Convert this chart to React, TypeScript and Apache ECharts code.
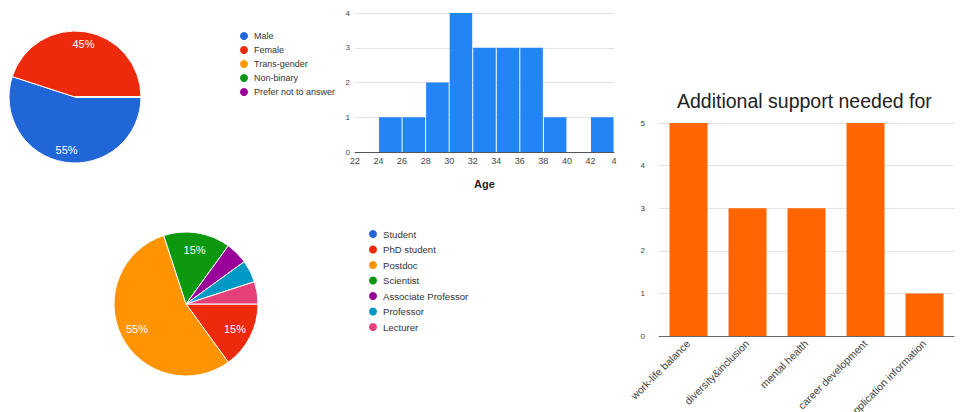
import React, { useEffect, useRef } from "react";
import * as echarts from "echarts";

const genderNames = ["Male", "Female", "Trans-gender", "Non-binary", "Prefer not to answer"];
const genderValues = [11, 9, 0, 0, 0];
const genderColors = ["#2166d6", "#ee2a0c", "#ff9900", "#109618", "#990099"];

const roleNames = ["Student", "PhD student", "Postdoc", "Scientist", "Associate Professor", "Professor", "Lecturer"];
const roleValues = [0, 3, 11, 3, 1, 1, 1];
const roleColors = ["#2166d6", "#ee2a0c", "#ff9300", "#0d990f", "#990099", "#0099c6", "#e5407a"];

const ageBinStart = [24, 26, 28, 30, 32, 34, 36, 38, 40, 42];
const ageBinEnd = [26, 28, 30, 32, 34, 36, 38, 40, 42, 44];
const ageCounts = [1, 1, 2, 4, 3, 3, 3, 1, 0, 1];

const supportCategories = ["work-life balance", "diversity&inclusion", "mental health", "career development", "application information"];
const supportCounts = [5, 3, 3, 5, 1];

const FONT = "Liberation Sans, Arial, sans-serif";

export default function App() {
  const ref = useRef<HTMLDivElement>(null);
  useEffect(() => {
    document.body.style.margin = "0";
    const chart = echarts.init(ref.current!, null, { renderer: "svg" });
    const pctLabel = (p: any) => (p.percent >= 10 ? Math.round(p.percent) + "%" : "");
    const genderData = genderNames.map((n, i) => ({ name: n, value: genderValues[i], itemStyle: { color: genderColors[i] } }));
    const roleData = roleNames.map((n, i) => ({ name: n, value: roleValues[i], itemStyle: { color: roleColors[i] } }));
    const overlay = (names: string[], values: number[]) =>
      names.map((n, i) => ({ name: n, value: values[i] }));

    const option: any = {
      animation: false,
      textStyle: { fontFamily: FONT },
      title: {
        text: "Additional support needed for",
        left: 677,
        top: 91,
        padding: 0,
        textStyle: { fontFamily: FONT, fontSize: 19.5, fontWeight: "normal", color: "#222" },
      },
      legend: [
        {
          orient: "vertical",
          left: 238,
          top: 30,
          padding: 0,
          icon: "circle",
          itemWidth: 10,
          itemHeight: 10,
          itemGap: 2,
          selectedMode: false,
          data: genderNames,
          textStyle: { fontSize: 9, lineHeight: 12, color: "#333", fontFamily: FONT },
        },
        {
          orient: "vertical",
          left: 367,
          top: 228,
          padding: 0,
          icon: "circle",
          itemWidth: 10,
          itemHeight: 10,
          itemGap: 3.5,
          selectedMode: false,
          data: roleNames,
          textStyle: { fontSize: 9.6, lineHeight: 12, color: "#333", fontFamily: FONT },
        },
      ],
      grid: [
        { left: 355, right: 346, top: 13, bottom: 260, outerBoundsMode: "none" },
        { left: 659, right: 6, top: 123, bottom: 76, outerBoundsMode: "none" },
      ],
      xAxis: [
        {
          gridIndex: 0,
          type: "value",
          min: 22,
          max: 44,
          interval: 2,
          name: "Age",
          nameLocation: "middle",
          nameGap: 26,
          nameTextStyle: { fontWeight: "bold", fontSize: 11, color: "#222", fontFamily: FONT },
          axisLine: { show: true, lineStyle: { color: "#555" } },
          axisTick: { show: false },
          splitLine: { show: false },
          axisLabel: {
            fontSize: 9,
            color: "#444",
            margin: 4,
            formatter: (v: number) => (v === 44 ? "4" : String(v)),
          },
        },
        {
          gridIndex: 1,
          type: "category",
          data: supportCategories,
          axisLine: { lineStyle: { color: "#666" } },
          axisTick: { show: false },
          axisLabel: { rotate: 45, fontSize: 10.5, color: "#444", margin: 6, interval: 0 },
        },
      ],
      yAxis: [
        {
          gridIndex: 0,
          type: "value",
          min: 0,
          max: 4,
          interval: 1,
          axisLine: { show: false },
          axisTick: { show: false },
          splitLine: { lineStyle: { color: "#e3e3e3" } },
          axisLabel: { fontSize: 8, color: "#444", margin: 5 },
        },
        {
          gridIndex: 1,
          type: "value",
          min: 0,
          max: 5,
          interval: 1,
          axisLine: { show: false },
          axisTick: { show: false },
          splitLine: { lineStyle: { color: "#e3e3e3" } },
          axisLabel: { fontSize: 8, color: "#444", margin: 14, hideOverlap: false },
        },
      ],
      series: [
        {
          type: "pie",
          center: [75, 97],
          radius: [0, 66],
          startAngle: 0,
          clockwise: true,
          data: genderData,
          label: { show: false },
          labelLine: { show: false },
          itemStyle: { borderColor: "#fff", borderWidth: 1 },
          silent: true,
        },
        {
          type: "pie",
          center: [75, 97],
          radius: [36, 66],
          startAngle: 0,
          clockwise: true,
          data: overlay(genderNames, genderValues),
          itemStyle: { color: "rgba(0,0,0,0)", borderWidth: 0 },
          label: { show: true, position: "inside", formatter: pctLabel, color: "#fff", fontSize: 11, fontFamily: FONT },
          labelLine: { show: false },
          silent: true,
        },
        {
          type: "pie",
          center: [186, 304],
          radius: [0, 72],
          startAngle: 0,
          clockwise: true,
          data: roleData,
          label: { show: false },
          labelLine: { show: false },
          itemStyle: { borderColor: "#fff", borderWidth: 1 },
          silent: true,
        },
        {
          type: "pie",
          center: [186, 304],
          radius: [32, 72],
          startAngle: 0,
          clockwise: true,
          data: overlay(roleNames, roleValues),
          itemStyle: { color: "rgba(0,0,0,0)", borderWidth: 0 },
          label: { show: true, position: "inside", formatter: pctLabel, color: "#fff", fontSize: 11, fontFamily: FONT },
          labelLine: { show: false },
          silent: true,
        },
        {
          type: "custom",
          xAxisIndex: 0,
          yAxisIndex: 0,
          data: ageBinStart.map((s, i) => [s, ageBinEnd[i], ageCounts[i]]),
          renderItem: (params: any, api: any) => {
            const x0 = api.value(0);
            const x1 = api.value(1);
            const y = api.value(2);
            const p0 = api.coord([x0, 0]);
            const p1 = api.coord([x1, y]);
            return {
              type: "rect",
              shape: { x: p0[0] + 0.5, y: p1[1], width: p1[0] - p0[0] - 1, height: p0[1] - p1[1] },
              style: { fill: "#2185f5" },
            };
          },
          silent: true,
        },
        {
          type: "bar",
          xAxisIndex: 1,
          yAxisIndex: 1,
          data: supportCounts,
          barWidth: 38,
          itemStyle: { color: "#ff6500" },
          silent: true,
        },
      ],
    };
    chart.setOption(option);
    return () => chart.dispose();
  }, []);
  return <div ref={ref} style={{ width: 960, height: 412 }} />;
}
